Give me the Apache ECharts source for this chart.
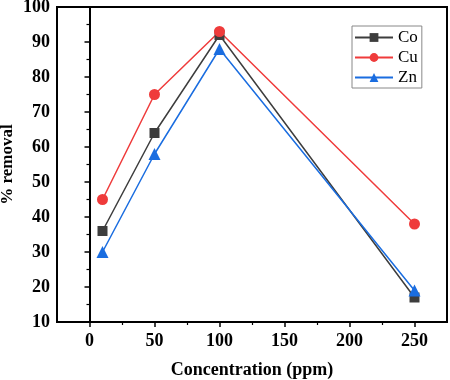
<!DOCTYPE html>
<html>
<head>
    <meta charset="utf-8">
    <script type="text/javascript" src="https://cdn.jsdelivr.net/npm/echarts@6/dist/echarts.min.js"></script>
    <title>% removal</title>
</head>
<body style="margin:0">
    <div id="container" style="width:450px;height:380px;"></div>
    <script type="text/javascript">
    // 数据
    var concentration = [10, 50, 100, 250];
    var coRemoval = [36, 64, 92, 17];
    var cuRemoval = [45, 75, 93, 38];
    var znRemoval = [30, 58, 88, 19];

    // 刻度
    var xMajorTicks = [0, 50, 100, 150, 200, 250];
    var xMinorTicks = [25, 75, 125, 175, 225];

    var serif = '"Liberation Serif", "Times New Roman", serif';

    function pairs(xs, ys) {
        return xs.map(function (x, i) { return [x, ys[i]]; });
    }

    var myChart = echarts.init(document.getElementById('container'));

    var labelStyle = { color: '#000', fontFamily: serif, fontWeight: 'bold', fontSize: 18 };
    var axisLine = { show: true, lineStyle: { color: '#000', width: 2 } };

    var option = {
        animation: false,
        grid: {
            left: 57, right: 3, top: 7, bottom: 58,
            outerBoundsMode: 'none',
            show: true, borderColor: '#000', borderWidth: 2
        },
        legend: {
            orient: 'vertical',
            left: 352, top: 26,
            padding: [3, 4, 2, 2],
            itemGap: 3,
            itemWidth: 38,
            itemHeight: 11,
            borderColor: '#888', borderWidth: 1,
            textStyle: { fontFamily: serif, fontSize: 17, lineHeight: 17, color: '#000' },
            data: ['Co', 'Cu', 'Zn']
        },
        xAxis: [{
            type: 'value', min: -25, max: 275, interval: 50,
            position: 'bottom',
            name: 'Concentration (ppm)', nameLocation: 'middle', nameGap: 39,
            nameMoveOverlap: false,
            nameTextStyle: labelStyle,
            axisLine: axisLine,
            axisTick: { show: true, length: 5, customValues: xMajorTicks, lineStyle: { color: '#000', width: 1.5 } },
            axisLabel: Object.assign({ margin: 10, customValues: xMajorTicks }, labelStyle),
            splitLine: { show: false }
        }, {
            // 次刻度
            type: 'value', min: -25, max: 275, interval: 50,
            position: 'bottom',
            axisLine: { show: false },
            axisTick: { show: true, length: 3, customValues: xMinorTicks, lineStyle: { color: '#000', width: 1.2 } },
            axisLabel: { show: false },
            splitLine: { show: false }
        }],
        yAxis: {
            type: 'value', min: 10, max: 100, interval: 10,
            name: '% removal', nameLocation: 'middle', nameGap: 41,
            nameMoveOverlap: false,
            nameTextStyle: Object.assign({}, labelStyle, { fontSize: 17 }),
            axisLine: axisLine,
            axisTick: { show: true, length: 5, lineStyle: { color: '#000', width: 1.5 } },
            minorTick: { show: true, splitNumber: 2, length: 3, lineStyle: { color: '#000', width: 1.2 } },
            axisLabel: Object.assign({ margin: 7 }, labelStyle),
            splitLine: { show: false }
        },
        series: [
            { name: 'Co', type: 'line', data: pairs(concentration, coRemoval),
              symbol: 'rect', symbolSize: 10,
              itemStyle: { color: '#3d3d3d' }, lineStyle: { color: '#3d3d3d', width: 1.5 } },
            { name: 'Cu', type: 'line', data: pairs(concentration, cuRemoval),
              symbol: 'circle', symbolSize: 11,
              itemStyle: { color: '#ef3b3b' }, lineStyle: { color: '#ef3b3b', width: 1.5 } },
            { name: 'Zn', type: 'line', data: pairs(concentration, znRemoval),
              symbol: 'triangle', symbolSize: 12,
              itemStyle: { color: '#1a6de0' }, lineStyle: { color: '#1a6de0', width: 1.5 } }
        ]
    };

    myChart.setOption(option);
    </script>
</body>
</html>
